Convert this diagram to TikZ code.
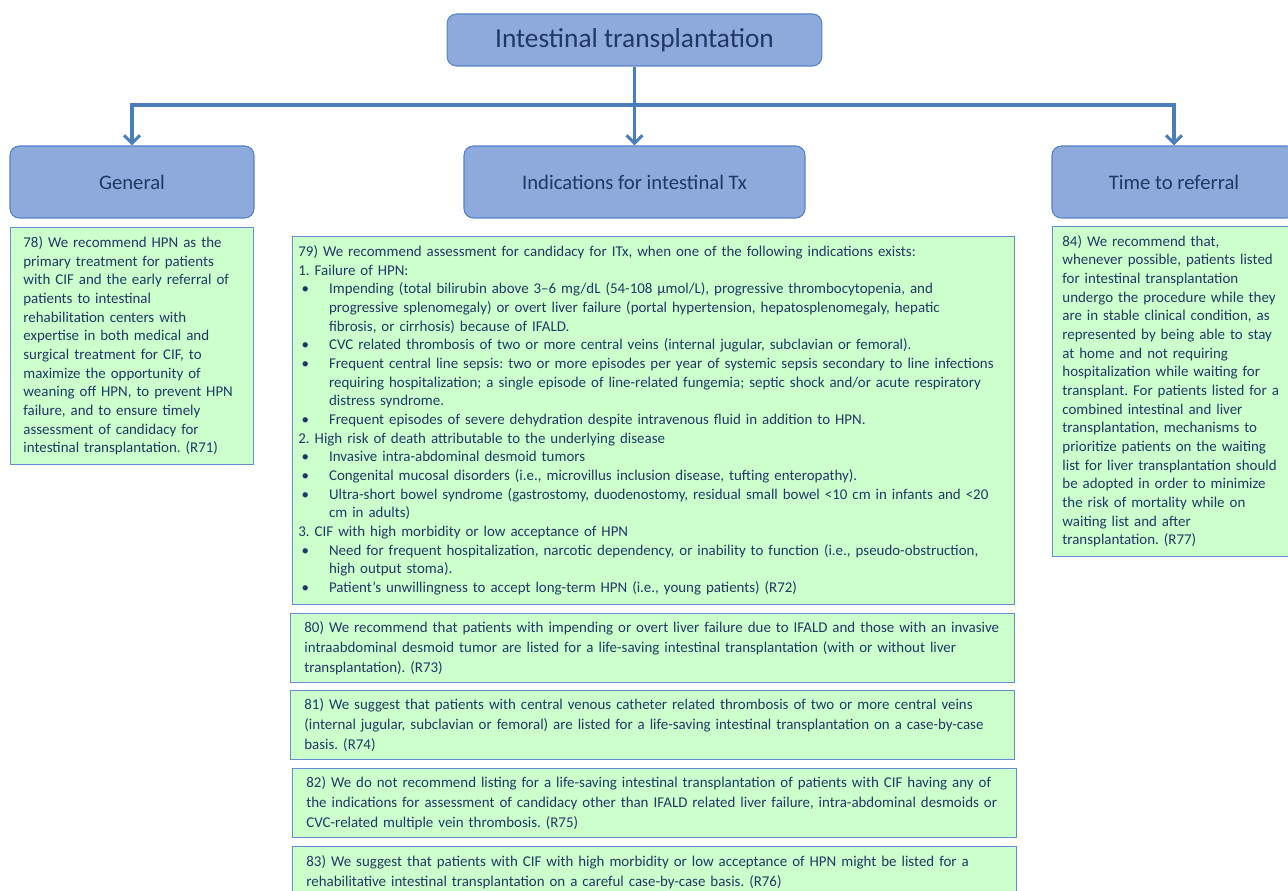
\documentclass[tikz,border=0pt]{standalone}
\usepackage{fontspec}
\setmainfont{Carlito}
\usetikzlibrary{arrows.meta}
\setlength{\parindent}{0pt}
\frenchspacing
\definecolor{hdfill}{RGB}{142,169,219}
\definecolor{hdline}{RGB}{84,130,200}
\definecolor{ink}{RGB}{31,56,100}
\definecolor{recfill}{RGB}{204,255,204}
\definecolor{recline}{RGB}{100,140,210}
\definecolor{linkblue}{RGB}{74,126,187}
\newcommand{\itm}{\par\noindent\hangindent=23pt\hangafter=1\makebox[23pt][l]{\hspace{2.5pt}\textbullet}}

\begin{document}
\begin{tikzpicture}[x=0.75pt, y=-0.75pt,
  head/.style={draw=hdline, fill=hdfill, rounded corners=7pt, text=ink, line width=0.8pt,
    font=\fontsize{15.5}{18}\selectfont},
  rec/.style={draw=recline, fill=recfill, text=ink, anchor=north west, align=left,
    font=\fontsize{11.2}{14}\selectfont, line width=0.6pt},
  wide/.style={rec, text width=522pt, inner xsep=10.5pt, minimum height=51.75pt,
    font=\fontsize{11.2}{15}\selectfont},
  link/.style={draw=linkblue, line width=2.3pt},
  tip/.style={-{Straight Barb[length=6pt,width=12pt]}}]
\useasboundingbox (0,0) rectangle (1288,891);
\node[head, minimum width=281pt, minimum height=39pt, font=\fontsize{20.5}{24}\selectfont] (itx) at (634.5,40) {Intestinal transplantation};
\node[head, minimum width=183pt, minimum height=54pt] (gen) at (132,182) {General};
\node[head, minimum width=255.75pt, minimum height=54pt] (ind) at (634.5,182) {Indications for intestinal Tx};
\node[head, minimum width=183pt, minimum height=54pt] (ref) at (1174,182) {Time to referral};
\coordinate (gl) at (132,105);
\coordinate (rl) at (1174,105);
\draw[link, tip] (itx.south) -- (ind.north);
\draw[link, {Straight Barb[length=6pt,width=12pt]}-{Straight Barb[length=6pt,width=12pt]}] (gen.north) -- (gl) -- (rl) -- (ref.north);
\node[rec, text width=163pt, inner xsep=9.75pt, minimum height=177.75pt] (r78) at (10,227) {78) We recommend HPN as the\newline primary treatment for patients\newline with CIF and the early referral of\newline patients to intestinal\newline rehabilitation centers with\newline expertise in both medical and\newline surgical treatment for CIF, to\newline maximize the opportunity of\newline weaning off HPN, to prevent HPN\newline failure, and to ensure timely\newline assessment of candidacy for\newline intestinal transplantation. (R71)};
\node[rec, text width=532.5pt, inner xsep=4.5pt, minimum height=276pt] (r79) at (292,236) {79) We recommend assessment for candidacy for ITx, when one of the following indications exists:\par
1. Failure of HPN:
\itm Impending (total bilirubin above 3–6 mg/dL (54-108 µmol/L), progressive thrombocytopenia, and\newline progressive splenomegaly) or overt liver failure (portal hypertension, hepatosplenomegaly, hepatic\newline fibrosis, or cirrhosis) because of IFALD.
\itm CVC related thrombosis of two or more central veins (internal jugular, subclavian or femoral).
\itm Frequent central line sepsis: two or more episodes per year of systemic sepsis secondary to line infections\newline requiring hospitalization; a single episode of line-related fungemia; septic shock and/or acute respiratory\newline distress syndrome.
\itm Frequent episodes of severe dehydration despite intravenous fluid in addition to HPN.
\par 2. High risk of death attributable to the underlying disease
\itm Invasive intra-abdominal desmoid tumors
\itm Congenital mucosal disorders (i.e., microvillus inclusion disease, tufting enteropathy).
\itm Ultra-short bowel syndrome (gastrostomy, duodenostomy, residual small bowel <10 cm in infants and <20\newline cm in adults)
\par 3. CIF with high morbidity or low acceptance of HPN
\itm Need for frequent hospitalization, narcotic dependency, or inability to function (i.e., pseudo-obstruction,\newline high output stoma).
\itm Patient’s unwillingness to accept long-term HPN (i.e., young patients) (R72)};
\node[wide] (r80) at (290,613) {80) We recommend that patients with impending or overt liver failure due to IFALD and those with an invasive\newline intraabdominal desmoid tumor are listed for a life-saving intestinal transplantation (with or without liver\newline transplantation). (R73)};
\node[wide] (r81) at (290,690) {81) We suggest that patients with central venous catheter related thrombosis of two or more central veins\newline (internal jugular, subclavian or femoral) are listed for a life-saving intestinal transplantation on a case-by-case\newline basis. (R74)};
\node[wide] (r82) at (292,768) {82) We do not recommend listing for a life-saving intestinal transplantation of patients with CIF having any of\newline the indications for assessment of candidacy other than IFALD related liver failure, intra-abdominal desmoids or\newline CVC-related multiple vein thrombosis. (R75)};
\node[wide] (r83) at (292,846) {83) We suggest that patients with CIF with high morbidity or low acceptance of HPN might be listed for a\newline rehabilitative intestinal transplantation on a careful case-by-case basis. (R76)\newline\mbox{}};
\node[rec, text width=168pt, inner xsep=7.5pt, minimum height=247.5pt] (r84) at (1052,226) {84) We recommend that,\newline whenever possible, patients listed\newline for intestinal transplantation\newline undergo the procedure while they\newline are in stable clinical condition, as\newline represented by being able to stay\newline at home and not requiring\newline hospitalization while waiting for\newline transplant. For patients listed for a\newline combined intestinal and liver\newline transplantation, mechanisms to\newline prioritize patients on the waiting\newline list for liver transplantation should\newline be adopted in order to minimize\newline the risk of mortality while on\newline waiting list and after\newline transplantation. (R77)};
\end{tikzpicture}
\end{document}
